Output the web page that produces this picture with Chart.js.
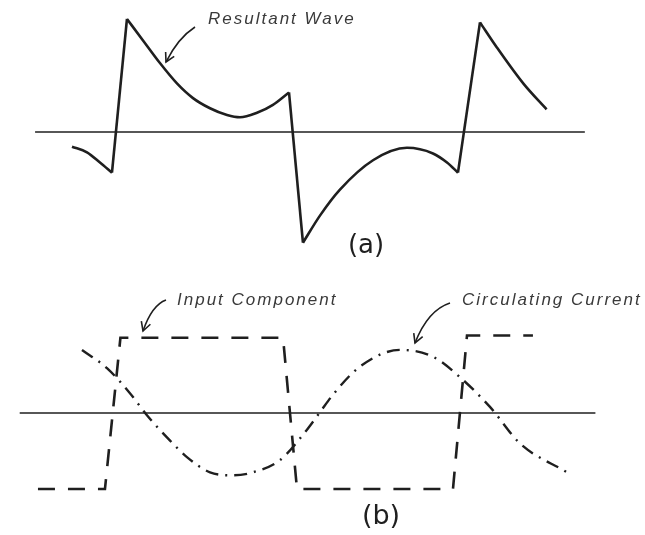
<!DOCTYPE html>
<html>
<head>
<meta charset="utf-8">
<script src="https://cdn.jsdelivr.net/npm/chart.js@4.4.1/dist/chart.umd.min.js"></script>
<style>
  html, body { margin: 0; padding: 0; background: #fff; }
  #wrap { position: relative; width: 645px; height: 535px; }
  canvas { position: absolute; left: 0; }
  #chartA { top: 0; }
  #chartB { top: 265px; }
</style>
</head>
<body>
<div id="wrap">
  <canvas id="chartA" width="645" height="265"></canvas>
  <canvas id="chartB" width="645" height="270"></canvas>
</div>
<script>
// electrical angle (degrees) and relative amplitude

// (a) resultant wave
const resultDeg = [-41.6, -26.0, -12.5, 0.0, 15.6, 32.3, 49.9, 67.6, 84.3, 102.0, 119.7, 133.2,
                   150.9, 167.5, 184.2, 198.7, 216.4, 237.2, 271.6, 306.9, 334.0, 348.6, 360.0,
                   382.9, 400.3, 427.9, 452.2];
const resultVal = [-0.13, -0.18, -0.27, -0.36, 1.00, 0.81, 0.61, 0.43, 0.30, 0.21, 0.15, 0.13,
                   0.17, 0.24, 0.35, -0.98, -0.74, -0.51, -0.25, -0.14, -0.19, -0.27, -0.36,
                   0.97, 0.75, 0.43, 0.20];
// indices where the trace switches abruptly (steep flanks)
const resultCorners = [3, 4, 14, 15, 22, 23];

// (b) input component (square wave)
const inputDeg = [-77, -7.3, 8.8, 178, 192.5, 354.8, 369.4, 438];
const inputVal = [-1.0, -1.0, 0.99, 0.99, -1.0, -1.0, 1.02, 1.02];

// (b) circulating current
const circDeg = [-31.2, -5.2, 18.7, 36.4, 57.2, 78.0, 102.0, 125.9, 146.7, 174.8, 202.9, 216.4,
                 229.9, 258.0, 299.7, 334.0, 362.1, 393.3, 424.5, 473.4];
const circVal = [0.83, 0.59, 0.26, -0.03, -0.32, -0.58, -0.78, -0.82, -0.78, -0.62, -0.22, 0.01,
                 0.24, 0.61, 0.83, 0.74, 0.47, 0.08, -0.40, -0.78];

// zero lines
const axisA = [-80, 492];
const axisB = [-96, 503];

const X_MIN = -116.5, X_MAX = 554.6;
const INK = '#1f1f1f';

function pts(xs, ys) {
    return xs.map((x, i) => ({ x: x, y: ys[i] }));
}

// split the resultant into smooth pieces so the sharp corners stay sharp
function resultantPieces() {
    const all = pts(resultDeg, resultVal);
    const cuts = [0, ...resultCorners, all.length - 1];
    const out = [];
    for (let i = 0; i < cuts.length - 1; i++) {
        out.push({
            label: 'Resultant Wave',
            data: all.slice(cuts[i], cuts[i + 1] + 1),
            borderColor: INK,
            borderWidth: 2.6,
            cubicInterpolationMode: 'monotone',
            pointRadius: 0
        });
    }
    return out;
}

function zeroLine(range) {
    return {
        label: 'zero',
        data: pts(range, [0, 0]),
        borderColor: INK,
        borderWidth: 1.5,
        pointRadius: 0
    };
}

function arrow(c, x0, y0, cx, cy, x1, y1) {
    c.beginPath();
    c.moveTo(x0, y0);
    c.quadraticCurveTo(cx, cy, x1, y1);
    c.stroke();
    const a = Math.atan2(y1 - cy, x1 - cx);
    const len = 10;
    c.beginPath();
    c.moveTo(x1 - len * Math.cos(a - 0.5), y1 - len * Math.sin(a - 0.5));
    c.lineTo(x1, y1);
    c.lineTo(x1 - len * Math.cos(a + 0.5), y1 - len * Math.sin(a + 0.5));
    c.stroke();
}

function label(c, text, x, y) {
    c.save();
    c.font = 'italic 17px "Liberation Sans", Arial, sans-serif';
    c.letterSpacing = '2px';
    c.fillStyle = '#3a3a3a';
    c.textBaseline = 'alphabetic';
    c.fillText(text, x, y);
    c.restore();
}

function caption(c, text, x, y, size) {
    c.save();
    c.font = size + 'px "DejaVu Sans", sans-serif';
    c.fillStyle = INK;
    c.textAlign = 'center';
    c.textBaseline = 'middle';
    c.fillText(text, x, y);
    c.restore();
}

const notesA = {
    id: 'notesA',
    afterDraw(chart) {
        const c = chart.ctx;
        c.save();
        c.strokeStyle = INK;
        c.lineWidth = 1.6;
        arrow(c, 195, 27, 178, 38, 166, 62);
        c.restore();
        label(c, 'Resultant Wave', 208, 24);
        caption(c, '(a)', 366, 246, 26);
    }
};

const notesB = {
    id: 'notesB',
    afterDraw(chart) {
        const c = chart.ctx;
        c.save();
        c.strokeStyle = INK;
        c.lineWidth = 1.6;
        arrow(c, 166, 35, 152, 40, 143, 66);
        arrow(c, 450, 38, 428, 45, 415, 78);
        c.restore();
        label(c, 'Input Component', 177, 40);
        label(c, 'Circulating Current', 462, 40);
        caption(c, '(b)', 381, 252, 27);
    }
};

function baseOptions(yMin, yMax) {
    return {
        responsive: false,
        animation: false,
        devicePixelRatio: 1,
        layout: { padding: 0 },
        plugins: { legend: { display: false }, tooltip: { enabled: false } },
        elements: { point: { radius: 0 } },
        scales: {
            x: { type: 'linear', min: X_MIN, max: X_MAX, display: false },
            y: { type: 'linear', min: yMin, max: yMax, display: false }
        }
    };
}

const chartA = new Chart(document.getElementById('chartA').getContext('2d'), {
    type: 'line',
    data: { datasets: [zeroLine(axisA), ...resultantPieces()] },
    options: baseOptions(-1.177, 1.168),
    plugins: [notesA]
});

const chartB = new Chart(document.getElementById('chartB').getContext('2d'), {
    type: 'line',
    data: {
        datasets: [
            zeroLine(axisB),
            {
                label: 'Input Component',
                data: pts(inputDeg, inputVal),
                borderColor: INK,
                borderWidth: 2.6,
                borderDash: [17, 13],
                tension: 0,
                pointRadius: 0
            },
            {
                label: 'Circulating Current',
                data: pts(circDeg, circVal),
                borderColor: INK,
                borderWidth: 2.4,
                borderDash: [13, 7, 2, 7],
                cubicInterpolationMode: 'monotone',
                pointRadius: 0
            }
        ]
    },
    options: baseOptions(-1.605, 1.947),
    plugins: [notesB]
});
</script>
</body>
</html>
